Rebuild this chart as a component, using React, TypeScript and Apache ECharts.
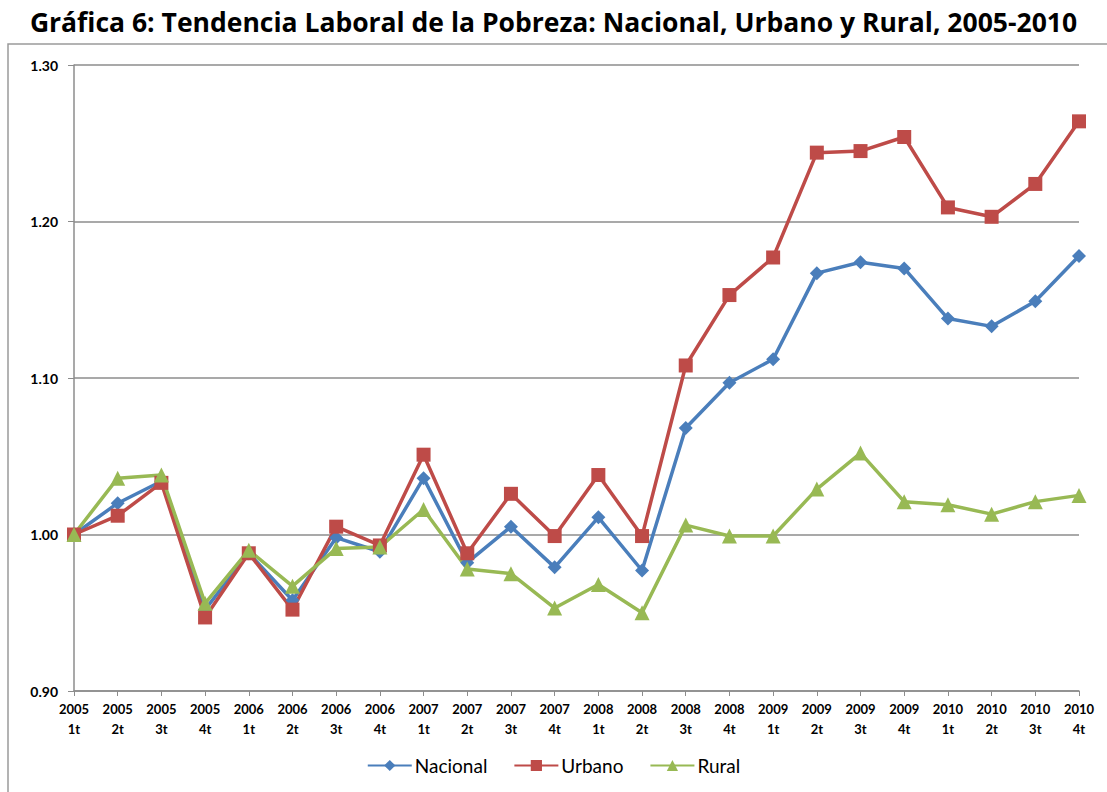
import React, { useEffect, useRef } from "react";
import * as echarts from "echarts";

const categories = [
  "2005 1t", "2005 2t", "2005 3t", "2005 4t",
  "2006 1t", "2006 2t", "2006 3t", "2006 4t",
  "2007 1t", "2007 2t", "2007 3t", "2007 4t",
  "2008 1t", "2008 2t", "2008 3t", "2008 4t",
  "2009 1t", "2009 2t", "2009 3t", "2009 4t",
  "2010 1t", "2010 2t", "2010 3t", "2010 4t",
];

const nacional = [
  1.0, 1.02, 1.034, 0.952, 0.988, 0.958, 0.998, 0.989,
  1.036, 0.982, 1.005, 0.979, 1.011, 0.977, 1.068, 1.097,
  1.112, 1.167, 1.174, 1.17, 1.138, 1.133, 1.149, 1.178,
];

const urbano = [
  1.0, 1.012, 1.033, 0.947, 0.988, 0.952, 1.005, 0.993,
  1.051, 0.988, 1.026, 0.999, 1.038, 0.999, 1.108, 1.153,
  1.177, 1.244, 1.245, 1.254, 1.209, 1.203, 1.224, 1.264,
];

const rural = [
  1.0, 1.036, 1.038, 0.956, 0.99, 0.967, 0.991, 0.992,
  1.016, 0.978, 0.975, 0.953, 0.968, 0.95, 1.006, 0.999,
  0.999, 1.029, 1.052, 1.021, 1.019, 1.013, 1.021, 1.025,
];

const titleText = "Gráfica 6: Tendencia Laboral de la Pobreza: Nacional, Urbano y Rural, 2005-2010";

export default function App() {
  const ref = useRef<HTMLDivElement>(null);

  useEffect(() => {
    document.body.style.margin = "0";
    const chart = echarts.init(ref.current!, null, { renderer: "svg" });
    const font = "Lato, 'Open Sans', sans-serif";
    const mk = (name: string, data: number[], color: string, symbol: string, size: number) => ({
      name,
      type: "line",
      data,
      symbol,
      symbolSize: size,
      showSymbol: true,
      lineStyle: { color, width: 3.5 },
      itemStyle: { color },
      emphasis: { disabled: true },
    });
    chart.setOption({
      animation: false,
      backgroundColor: "#ffffff",
      title: {
        text: titleText,
        left: "center",
        top: 3,
        textStyle: { fontFamily: "'Open Sans', sans-serif", fontWeight: "bold", fontSize: 26.5, color: "#000" },
      },
      graphic: [
        {
          type: "rect",
          shape: { x: 8, y: 44, width: 1120, height: 800 },
          style: { fill: "none", stroke: "#9a9a9a", lineWidth: 1.5 },
          silent: true,
        },
      ],
      grid: { left: 74, right: 28, top: 65, bottom: 101, containLabel: false },
      legend: {
        bottom: 12,
        left: "center",
        itemWidth: 44,
        itemHeight: 14,
        itemGap: 26,
        textStyle: { fontFamily: font, fontSize: 19, color: "#000", padding: [0, 0, 0, -2] },
        data: ["Nacional", "Urbano", "Rural"],
      },
      xAxis: {
        type: "category",
        data: categories,
        boundaryGap: false,
        axisLine: { lineStyle: { color: "#8c8c8c", width: 1.5 } },
        axisTick: { show: true, alignWithLabel: true, length: 5, lineStyle: { color: "#8c8c8c" } },
        axisLabel: {
          interval: 0,
          formatter: (v: string) => v.replace(" ", "\n"),
          fontFamily: font,
          fontWeight: "bold",
          fontSize: 13,
          color: "#000",
          lineHeight: 20,
          margin: 8,
        },
        splitLine: { show: false },
      },
      yAxis: {
        type: "value",
        min: 0.9,
        max: 1.3,
        interval: 0.1,
        axisLine: { show: true, lineStyle: { color: "#8c8c8c", width: 1.5 } },
        axisTick: { show: true, length: 6, lineStyle: { color: "#8c8c8c" } },
        axisLabel: {
          formatter: (v: number) => v.toFixed(2),
          fontFamily: font,
          fontWeight: "bold",
          fontSize: 14,
          color: "#000",
          margin: 16,
        },
        splitLine: { show: true, lineStyle: { color: "#8c8c8c", width: 1.5 } },
      },
      series: [
        mk("Nacional", nacional, "#4a7ebb", "diamond", 14),
        mk("Urbano", urbano, "#be4b48", "rect", 14),
        mk("Rural", rural, "#98b954", "triangle", 15),
      ],
    });
    return () => chart.dispose();
  }, []);

  return <div ref={ref} style={{ width: 1107, height: 792 }} />;
}
